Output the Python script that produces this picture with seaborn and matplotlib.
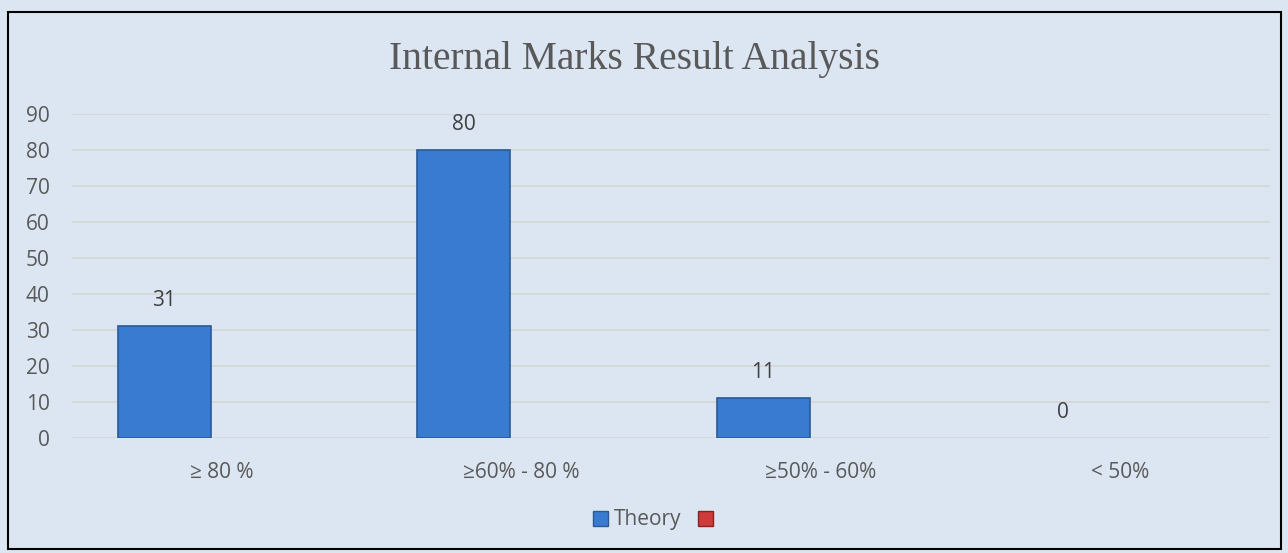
import numpy as np
import pandas as pd
import matplotlib.pyplot as plt
import seaborn as sns
from matplotlib.patches import Patch, Rectangle

# Données du graphique
categories = ['≥ 80 %', '≥60% - 80 %', '≥50% - 60%', '< 50%']
theory = [31, 80, 11, 0]
autre = [np.nan, np.nan, np.nan, np.nan]  # série sans nom, vide
series = ['Theory', ' ']

FOND = '#dce6f2'
BLEU = '#3a7bd2'
BLEU_BORD = '#2a5a96'
ROUGE = '#cf3a3a'
GRIS = '#595959'

df = pd.DataFrame({
    'categorie': categories * 2,
    'serie': [series[0]] * 4 + [series[1]] * 4,
    'valeur': theory + autre,
})

sns.set_style('white')
plt.rcParams['font.family'] = ['Open Sans', 'DejaVu Sans']

fig = plt.figure(figsize=(12.88, 5.53), dpi=100, facecolor=FOND)
ax = fig.add_axes([72 / 1288, 1 - 438 / 553, (1270 - 72) / 1288, (438 - 114) / 553])
ax.set_facecolor(FOND)

sns.barplot(data=df, x='categorie', y='valeur', hue='serie', hue_order=series,
            order=categories, palette=[BLEU, ROUGE], saturation=1, width=0.768, gap=0.19,
            edgecolor=BLEU_BORD, linewidth=1.2, legend=False, ax=ax)

# pas de contour pour les barres de hauteur nulle
for barre in ax.containers[0]:
    if barre.get_height() == 0:
        barre.set_linewidth(0)

ax.bar_label(ax.containers[0], labels=[str(v) for v in theory], padding=11,
             fontsize=15, color='#404040')

ax.set_ylim(0, 90)
ax.set_yticks(range(0, 91, 10))
ax.grid(axis='y', color='#d6d6d6', linewidth=1.3)
ax.set_axisbelow(True)
for s in ax.spines.values():
    s.set_visible(False)
ax.tick_params(axis='both', length=0, labelsize=15, labelcolor=GRIS)
ax.tick_params(axis='x', pad=17)
ax.tick_params(axis='y', pad=16)
ax.set_xlabel('')
ax.set_ylabel('')

fig.text(0.4925, 1 - 59 / 553, 'Internal Marks Result Analysis', ha='center', va='center',
         fontsize=28.5, color=GRIS, family=['Liberation Serif', 'DejaVu Serif'])

handles = [Patch(facecolor=BLEU, edgecolor=BLEU_BORD), Patch(facecolor=ROUGE, edgecolor='#8a2020')]
fig.legend(handles, ['Theory', ''], loc='center', bbox_to_anchor=(656 / 1288, 1 - 520 / 553),
           ncol=2, frameon=False, fontsize=15, labelcolor=GRIS, handlelength=0.7,
           handleheight=0.7, handletextpad=0.3, columnspacing=0.8)

fig.add_artist(Rectangle((8 / 1288, 1 - 549 / 553), 1273 / 1288, 537 / 553,
                         transform=fig.transFigure, fill=False, edgecolor='black', linewidth=1.5))

fig.savefig('out.png', dpi=100, facecolor=FOND)
